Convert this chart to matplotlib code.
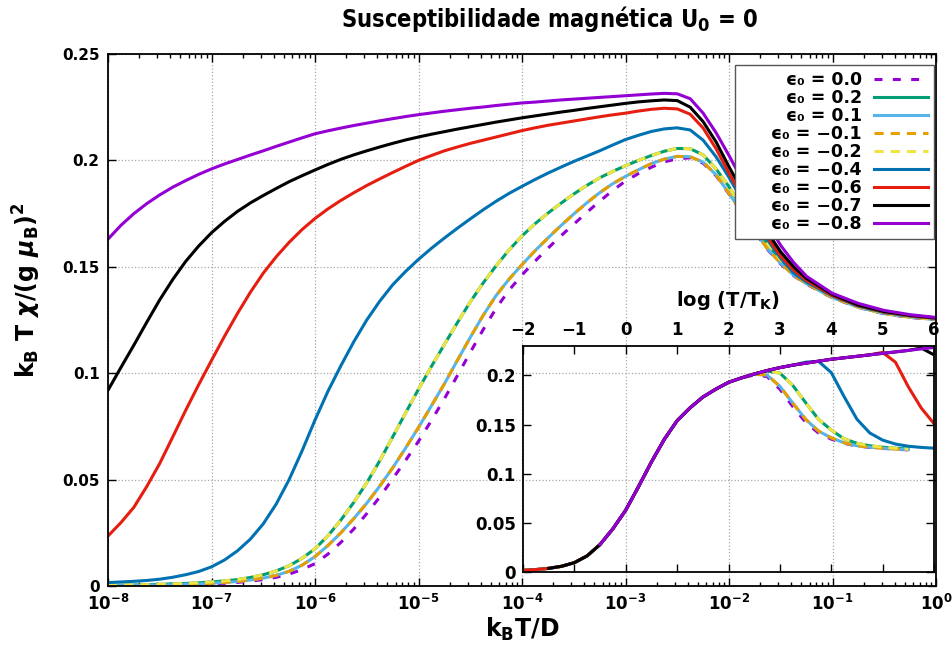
import numpy as np
import matplotlib
matplotlib.use('Agg')
import matplotlib.pyplot as plt
from matplotlib import font_manager
from matplotlib.ticker import LogLocator, NullFormatter

log_t = [-8, -7.875, -7.75, -7.625, -7.5, -7.375, -7.25, -7.125, -7, -6.875,
         -6.75, -6.625, -6.5, -6.375, -6.25, -6.125, -6, -5.875, -5.75, -5.625,
         -5.5, -5.375, -5.25, -5.125, -5, -4.875, -4.75, -4.625, -4.5, -4.375,
         -4.25, -4.125, -4, -3.875, -3.75, -3.625, -3.5, -3.375, -3.25, -3.125,
         -3, -2.875, -2.75, -2.625, -2.5, -2.375, -2.25, -2.125, -2, -1.875,
         -1.75, -1.625, -1.5, -1.375, -1.25, -1, -0.75, -0.5, -0.25, 0]

# k_B T chi / (g mu_B)^2, one list per eps_0
chi_00 = [0.0001, 0.0002, 0.0002, 0.0003, 0.0004, 0.0005, 0.0006, 0.0008, 0.0010, 0.0013,
          0.0017, 0.0023, 0.0030, 0.0041, 0.0056, 0.0077, 0.0105, 0.0150, 0.0205, 0.0268,
          0.0340, 0.0418, 0.0503, 0.0590, 0.0680, 0.0778, 0.0880, 0.0988, 0.1098, 0.1205,
          0.1305, 0.1390, 0.1462, 0.1526, 0.1587, 0.1645, 0.1700, 0.1755, 0.1808, 0.1858,
          0.1903, 0.1938, 0.1968, 0.1993, 0.2008, 0.2012, 0.1987, 0.1928, 0.1842, 0.1752,
          0.1663, 0.1580, 0.1513, 0.1458, 0.1418, 0.1354, 0.1309, 0.1279, 0.1262, 0.1251]
chi_p02 = [0.0003, 0.0004, 0.0005, 0.0006, 0.0008, 0.0010, 0.0012, 0.0015, 0.0019, 0.0024,
           0.0030, 0.0040, 0.0053, 0.0071, 0.0095, 0.0130, 0.0175, 0.0236, 0.0310, 0.0393,
           0.0485, 0.0588, 0.0700, 0.0813, 0.0925, 0.1032, 0.1135, 0.1237, 0.1335, 0.1424,
           0.1505, 0.1579, 0.1645, 0.1702, 0.1752, 0.1798, 0.1842, 0.1882, 0.1918, 0.1948,
           0.1975, 0.2000, 0.2023, 0.2043, 0.2056, 0.2055, 0.2026, 0.1960, 0.1876, 0.1780,
           0.1690, 0.1607, 0.1532, 0.1473, 0.1428, 0.1360, 0.1312, 0.1282, 0.1265, 0.1253]
chi_p01 = [0.0002, 0.0002, 0.0003, 0.0004, 0.0005, 0.0006, 0.0008, 0.0010, 0.0013, 0.0017,
           0.0021, 0.0028, 0.0037, 0.0050, 0.0069, 0.0098, 0.0138, 0.0190, 0.0250, 0.0317,
           0.0389, 0.0469, 0.0555, 0.0648, 0.0745, 0.0847, 0.0950, 0.1060, 0.1168, 0.1272,
           0.1365, 0.1442, 0.1510, 0.1575, 0.1635, 0.1693, 0.1748, 0.1800, 0.1848, 0.1890,
           0.1925, 0.1956, 0.1985, 0.2006, 0.2019, 0.2017, 0.1992, 0.1932, 0.1845, 0.1755,
           0.1666, 0.1583, 0.1516, 0.1460, 0.1420, 0.1355, 0.1310, 0.1280, 0.1263, 0.1252]
chi_m01 = chi_p01  # lies on top of eps0 = 0.1
chi_m02 = chi_p02  # lies on top of eps0 = 0.2
chi_m04 = [0.0016, 0.0019, 0.0022, 0.0026, 0.0032, 0.0041, 0.0053, 0.0068, 0.0090, 0.0122,
           0.0165, 0.0220, 0.0292, 0.0385, 0.0500, 0.0635, 0.0780, 0.0915, 0.1035, 0.1148,
           0.1250, 0.1338, 0.1415, 0.1478, 0.1535, 0.1587, 0.1635, 0.1681, 0.1725, 0.1768,
           0.1808, 0.1845, 0.1878, 0.1910, 0.1940, 0.1968, 0.1995, 0.2020, 0.2045, 0.2072,
           0.2098, 0.2118, 0.2136, 0.2148, 0.2153, 0.2143, 0.2095, 0.2017, 0.1920, 0.1815,
           0.1715, 0.1625, 0.1539, 0.1470, 0.1428, 0.1362, 0.1315, 0.1285, 0.1268, 0.1257]
chi_m06 = [0.0235, 0.0298, 0.0370, 0.0468, 0.0576, 0.0700, 0.0825, 0.0945, 0.1060, 0.1173,
           0.1280, 0.1380, 0.1470, 0.1547, 0.1615, 0.1675, 0.1727, 0.1772, 0.1812, 0.1848,
           0.1882, 0.1913, 0.1943, 0.1972, 0.2000, 0.2023, 0.2045, 0.2063, 0.2080, 0.2095,
           0.2110, 0.2125, 0.2140, 0.2153, 0.2165, 0.2175, 0.2185, 0.2195, 0.2205, 0.2214,
           0.2222, 0.2232, 0.2240, 0.2245, 0.2242, 0.2217, 0.2152, 0.2055, 0.1940, 0.1830,
           0.1730, 0.1637, 0.1550, 0.1485, 0.1435, 0.1365, 0.1318, 0.1288, 0.1270, 0.1258]
chi_m07 = [0.0920, 0.1027, 0.1132, 0.1240, 0.1345, 0.1440, 0.1525, 0.1597, 0.1660, 0.1713,
           0.1760, 0.1800, 0.1835, 0.1868, 0.1900, 0.1928, 0.1955, 0.1981, 0.2005, 0.2026,
           0.2045, 0.2063, 0.2080, 0.2096, 0.2110, 0.2123, 0.2135, 0.2147, 0.2158, 0.2169,
           0.2180, 0.2190, 0.2200, 0.2209, 0.2218, 0.2227, 0.2235, 0.2244, 0.2252, 0.2260,
           0.2268, 0.2275, 0.2280, 0.2284, 0.2281, 0.2250, 0.2182, 0.2087, 0.1970, 0.1860,
           0.1758, 0.1660, 0.1570, 0.1500, 0.1445, 0.1370, 0.1320, 0.1290, 0.1272, 0.1260]
chi_m08 = [0.1630, 0.1695, 0.1750, 0.1797, 0.1838, 0.1874, 0.1905, 0.1934, 0.1960, 0.1983,
           0.2004, 0.2025, 0.2045, 0.2066, 0.2086, 0.2106, 0.2125, 0.2139, 0.2152, 0.2164,
           0.2175, 0.2186, 0.2196, 0.2206, 0.2215, 0.2223, 0.2231, 0.2238, 0.2245, 0.2251,
           0.2258, 0.2264, 0.2270, 0.2274, 0.2279, 0.2284, 0.2288, 0.2292, 0.2296, 0.2300,
           0.2304, 0.2308, 0.2312, 0.2315, 0.2313, 0.2290, 0.2222, 0.2130, 0.2023, 0.1910,
           0.1810, 0.1700, 0.1600, 0.1520, 0.1455, 0.1375, 0.1328, 0.1295, 0.1275, 0.1262]

# inset: log10(T/T_K)
inset_x = [-2, -1.75, -1.5, -1.25, -1, -0.75, -0.5, -0.25, 0, 0.25, 0.5, 0.75, 1,
           1.25, 1.5, 1.75, 2, 2.25, 2.5, 2.75, 3, 3.25, 3.5, 3.75, 4, 4.25, 4.5,
           4.75, 5, 5.25, 5.5, 5.75, 6]
inset_00 = [0.0017, 0.0025, 0.0037, 0.0058, 0.0095, 0.0165, 0.028, 0.044, 0.063, 0.087, 0.112,
            0.135, 0.154, 0.167, 0.178, 0.186, 0.193, 0.1975, 0.2005, 0.199, 0.186, 0.1685,
            0.1525, 0.1415, 0.1352, 0.131, 0.1282, 0.1268, 0.1258, 0.125, 0.1243, None, None]
inset_p02 = [0.0017, 0.0025, 0.0037, 0.0058, 0.0095, 0.0165, 0.028, 0.044, 0.063, 0.087, 0.112,
             0.135, 0.154, 0.167, 0.178, 0.186, 0.193, 0.1975, 0.2015, 0.2045, 0.2025, 0.190,
             0.1725, 0.1555, 0.1445, 0.1355, 0.131, 0.1285, 0.127, 0.126, 0.1252, None, None]
inset_p01 = [0.0017, 0.0025, 0.0037, 0.0058, 0.0095, 0.0165, 0.028, 0.044, 0.063, 0.087, 0.112,
             0.135, 0.154, 0.167, 0.178, 0.186, 0.193, 0.1975, 0.2012, 0.2005, 0.189, 0.172,
             0.1555, 0.1435, 0.1365, 0.1315, 0.1285, 0.127, 0.126, 0.1252, 0.1245, None, None]
inset_m01 = inset_p01
inset_m02 = inset_p02
inset_m04 = [0.0017, 0.0025, 0.0037, 0.0058, 0.0095, 0.0165, 0.028, 0.044, 0.063, 0.087, 0.112,
             0.135, 0.154, 0.167, 0.178, 0.186, 0.193, 0.1975, 0.2015, 0.205, 0.208, 0.2105,
             0.2135, 0.2145, 0.203, 0.1785, 0.1555, 0.1415, 0.1342, 0.1302, 0.128, 0.1268, 0.126]
inset_m06 = [0.0017, 0.0025, 0.0037, 0.0058, 0.0095, 0.0165, 0.028, 0.044, 0.063, 0.087, 0.112,
             0.135, 0.154, 0.167, 0.178, 0.186, 0.193, 0.1975, 0.2015, 0.205, 0.208, 0.2105,
             0.2125, 0.2145, 0.2165, 0.218, 0.2195, 0.221, 0.2235, 0.2135, 0.1885, 0.167, 0.151]
inset_m07 = [None, None, 0.0037, 0.0058, 0.0095, 0.0165, 0.028, 0.044, 0.063, 0.087, 0.112,
             0.135, 0.154, 0.167, 0.178, 0.186, 0.193, 0.1975, 0.2015, 0.205, 0.208, 0.2105,
             0.2125, 0.2145, 0.2165, 0.218, 0.2195, 0.221, 0.2225, 0.224, 0.2255, 0.228, 0.221]
inset_m08 = [None, None, None, None, None, None, 0.028, 0.044, 0.063, 0.087, 0.112,
             0.135, 0.154, 0.167, 0.178, 0.186, 0.193, 0.1975, 0.2015, 0.205, 0.208, 0.2105,
             0.2125, 0.2145, 0.2165, 0.218, 0.2195, 0.221, 0.2225, 0.224, 0.2255, 0.227, 0.2285]

eps_labels = ['0.0', '0.2', '0.1', '\u22120.1', '\u22120.2',
              '\u22120.4', '\u22120.6', '\u22120.7', '\u22120.8']
series = [chi_00, chi_p02, chi_p01, chi_m01, chi_m02, chi_m04, chi_m06, chi_m07, chi_m08]
inset_series = [inset_00, inset_p02, inset_p01, inset_m01, inset_m02,
                inset_m04, inset_m06, inset_m07, inset_m08]
colors = ['#9400D3', '#009E73', '#56B4E9', '#E69F00', '#F0E442',
          '#0072B2', '#E51E10', '#000000', '#9400D3']
dashes = [(2.6, 3.4), None, None, (3.0, 2.3), (3.0, 2.3), None, None, None, None]

plt.rcParams['font.family'] = 'DejaVu Sans'
plt.rcParams['font.weight'] = 'bold'
plt.rcParams['axes.labelweight'] = 'bold'

# condensed bold face for the title, if there is one
title_kw = dict(fontsize=15.5, fontweight='bold')
for f in font_manager.fontManager.ttflist:
    if ('Condensed' in f.fname and 'Bold' in f.fname and 'DejaVuSans' in f.fname
            and 'Oblique' not in f.fname and 'Mono' not in f.fname):
        title_kw = dict(fontproperties=font_manager.FontProperties(fname=f.fname, size=17))
        break

W, H = 952, 652
fig = plt.figure(figsize=(W / 100, H / 100), dpi=100)
ax = fig.add_axes([108 / W, 1 - 586 / H, (936 - 108) / W, (586 - 54) / H])
ins = fig.add_axes([523 / W, 1 - 572 / H, (934 - 523) / W, (572 - 346) / H])

lw = 2.2
x_main = 10 ** np.array(log_t)
for y, lab, c, d in zip(series, eps_labels, colors, dashes):
    line, = ax.plot(x_main, y, color=c, lw=lw,
                    label='     \u03f5\u2080 = ' + lab)
    if d is not None:
        line.set_dashes(d)

ax.set_xscale('log')
ax.set_xlim(1e-8, 1)
ax.set_ylim(0, 0.25)
ax.set_xticks([10.0 ** k for k in range(-8, 1)])
ax.set_xticklabels([r'$\mathbf{10^{%d}}$' % k for k in range(-8, 1)], fontsize=12)
ax.xaxis.set_minor_locator(LogLocator(base=10, subs=np.arange(2, 10), numticks=20))
ax.xaxis.set_minor_formatter(NullFormatter())
ax.set_yticks([0, 0.05, 0.1, 0.15, 0.2, 0.25])
ax.set_yticklabels(['0', '0.05', '0.1', '0.15', '0.2', '0.25'], fontsize=11)
ax.tick_params(which='both', direction='in', top=True, right=True, width=1)
ax.tick_params(which='major', length=6, pad=6)
ax.tick_params(which='minor', length=3)
ax.grid(True, which='major', ls=':', color='#a8a8a8', lw=0.9)
for s in ax.spines.values():
    s.set_linewidth(1.3)

ax.set_xlabel(r'k$_\mathbf{B}$T/D', fontsize=17, labelpad=1)
ax.set_ylabel(r'k$_\mathbf{B}$ T $\chi$/(g $\mu_\mathbf{B}$)$^2$', fontsize=17)
ax.yaxis.set_label_coords(-0.079, 0.555)

leg = ax.legend(loc='upper right', bbox_to_anchor=(0.9976, 0.979), borderaxespad=0,
                markerfirst=False, fontsize=12.5, handlelength=3.1, labelspacing=0.0,
                borderpad=0.35, handletextpad=0.7, fancybox=False, framealpha=1)
leg.get_frame().set_edgecolor('#555555')
leg.get_frame().set_linewidth(1.0)

fig.text(550 / W, 1 - 19 / H, r'Susceptibilidade magnética U$_\mathbf{0}$ = 0',
         ha='center', va='center', **title_kw)

# inset (transparent, drawn over the main grid)
ins.patch.set_facecolor('none')
xi = np.array(inset_x)
for y, c, d in zip(inset_series, colors, dashes):
    line, = ins.plot(xi, np.array(y, dtype=float), color=c, lw=lw)
    if d is not None:
        line.set_dashes(d)
ins.set_xlim(-2, 6)
ins.set_ylim(0, 0.23)
ins.set_xticks(range(-2, 7))
ins.set_xticklabels([str(k).replace('-', '\u2212') for k in range(-2, 7)])
ins.set_yticks([0, 0.05, 0.1, 0.15, 0.2])
ins.set_yticklabels(['0', '0.05', '0.1', '0.15', '0.2'])
ins.tick_params(direction='in', top=True, bottom=True, left=True, right=True,
                labeltop=True, labelbottom=False, length=6, width=1,
                labelsize=12, pad=5)
ins.xaxis.set_label_position('top')
ins.set_xlabel(r'log (T/T$_\mathbf{K}$)', fontsize=14, labelpad=11)
for s in ins.spines.values():
    s.set_linewidth(1.3)

fig.savefig('out.png', dpi=100)
